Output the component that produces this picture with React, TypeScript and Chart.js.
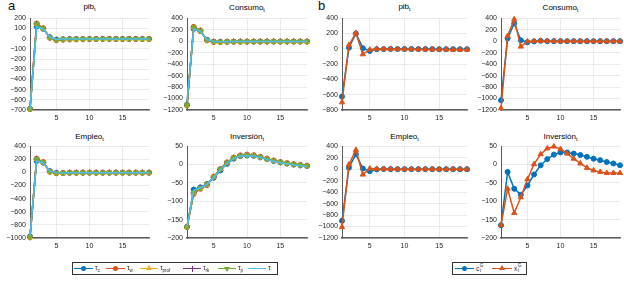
import React, { useEffect, useRef } from "react";
import { Chart, registerables } from "chart.js";
Chart.register(...registerables);

// ---------- data ----------
const periods = [1, 2, 3, 4, 5, 6, 7, 8, 9, 10, 11, 12, 13, 14, 15, 16, 17, 18, 19];
const xTicks = [5, 10, 15];

// Panel a: pib_t
const pibA_tc = [-690, 118, 96, 14, -9, -6, -5, -4, -4, -4, -3, -3, -3, -3, -3, -3, -3, -3, -3];
const pibA_tw = [-690, 148, 102, 8, -16, -10, -7, -6, -5, -5, -5, -4, -4, -4, -4, -4, -4, -4, -4];
const pibA_tprof = [-690, 146, 101, 9, -15, -9, -7, -6, -5, -5, -4, -4, -4, -4, -4, -4, -4, -4, -4];
const pibA_trk = [-690, 144, 100, 10, -14, -9, -6, -5, -5, -5, -4, -4, -4, -4, -4, -3, -3, -3, -3];
const pibA_tp = [-690, 142, 99, 10, -14, -8, -6, -5, -5, -4, -4, -4, -4, -3, -3, -3, -3, -3, -3];
const pibA_tau = [-690, 115, 94, 15, -8, -5, -4, -4, -4, -3, -3, -3, -3, -3, -3, -3, -3, -3, -3];

// Panel a: Consumo_t
const conA_tc = [-1110, 215, 175, 25, -8, -12, -10, -8, -8, -7, -7, -6, -6, -6, -6, -6, -6, -6, -6];
const conA_tw = [-1120, 250, 185, 15, -15, -14, -12, -10, -9, -8, -8, -7, -7, -7, -7, -7, -7, -7, -7];
const conA_tprof = [-1120, 246, 183, 16, -14, -13, -11, -10, -9, -8, -8, -7, -7, -7, -7, -7, -7, -7, -7];
const conA_trk = [-1120, 242, 181, 18, -13, -13, -11, -9, -8, -8, -7, -7, -7, -6, -6, -6, -6, -6, -6];
const conA_tp = [-1120, 238, 179, 18, -12, -12, -10, -9, -8, -8, -7, -7, -6, -6, -6, -6, -6, -6, -6];
const conA_tau = [-1050, 210, 172, 28, -6, -11, -9, -8, -7, -7, -6, -6, -6, -6, -6, -6, -6, -6, -6];

// Panel a: Empleo_t
const empA_tc = [-975, 175, 150, 20, -5, -8, -4, -4, -3, -3, -3, -3, -3, -3, -3, -3, -3, -3, -3];
const empA_tw = [-988, 210, 158, 10, -12, -10, -5, -5, -4, -4, -4, -4, -4, -4, -4, -4, -4, -4, -4];
const empA_tprof = [-988, 206, 157, 11, -11, -10, -5, -5, -4, -4, -4, -4, -4, -4, -4, -4, -4, -4, -4];
const empA_trk = [-988, 203, 156, 12, -10, -9, -5, -4, -4, -4, -4, -4, -4, -4, -4, -4, -4, -4, -4];
const empA_tp = [-988, 200, 155, 12, -10, -9, -5, -4, -4, -4, -4, -3, -3, -3, -3, -3, -3, -3, -3];
const empA_tau = [-960, 170, 148, 22, -4, -7, -4, -4, -3, -3, -3, -3, -3, -3, -3, -3, -3, -3, -3];

// Panel a: Inversión_t
const invA_tc = [-170, -68, -62, -53, -36, -16, 2, 16, 23, 25, 24, 20, 15, 10, 6, 3, 0, -2, -4];
const invA_tw = [-170, -80, -66, -56, -33, -12, 6, 19, 25, 27, 25, 21, 16, 11, 7, 4, 1, -1, -3];
const invA_tprof = [-170, -78, -65, -55, -33, -12, 6, 19, 25, 27, 26, 21, 16, 11, 7, 4, 1, -1, -3];
const invA_trk = [-170, -77, -64, -55, -34, -13, 5, 18, 24, 26, 25, 20, 15, 10, 6, 3, 0, -2, -4];
const invA_tp = [-170, -76, -64, -54, -34, -13, 5, 18, 24, 25, 24, 20, 15, 10, 6, 3, 0, -2, -4];
const invA_tau = [-170, -70, -63, -54, -35, -15, 3, 17, 23, 24, 23, 19, 14, 9, 5, 2, -1, -3, -5];

// Panel b
const pibB_cG = [-625, 15, 200, 8, -28, -6, -4, -3, -3, -3, -3, -3, -4, -4, -5, -5, -5, -5, -5];
const pibB_xG = [-700, 50, 205, -72, -12, 0, -2, -3, -4, -5, -6, -7, -8, -9, -10, -10, -11, -11, -11];
const conB_cG = [-1030, 50, 310, 15, -20, -5, 5, 0, 0, 0, 0, 0, 0, 0, 0, 0, 0, 0, 0];
const conB_xG = [-1170, 90, 380, -95, -5, 0, 5, 2, 0, 0, -1, -2, -2, -3, -3, -3, -3, -3, -3];
const empB_cG = [-900, 25, 260, 10, -35, -5, 2, 0, 0, 0, 0, 0, 0, 0, 0, 0, 0, 0, 0];
const empB_xG = [-1010, 80, 335, -95, 10, 5, 3, 2, 0, 0, 0, -1, -1, -1, -2, -2, -2, -2, -2];
const invB_cG = [-165, -20, -66, -82, -57, -27, -2, 15, 27, 33, 33, 30, 26, 21, 16, 12, 7, 3, -2];
const invB_xG = [-165, -66, -132, -89, -40, 1, 28, 44, 49, 42, 30, 16, 3, -9, -16, -20, -23, -23, -23];

// ---------- styles ----------
const C = {
  blue: "#0072BD",
  orange: "#D95319",
  yellow: "#EDB120",
  purple: "#7E2F8E",
  green: "#77AC30",
  cyan: "#4DBEEE",
};
const FONT = "'Liberation Sans', Arial, Helvetica, sans-serif";
const TICK_COLOR = "#262626";
const GRID = "#e4e4e4";

type Series = {
  label: string;
  color: string;
  values: number[];
  pointStyle: any;
  rotation?: number;
  radius: number;
};

const aSeries = (v: number[][]): Series[] => [
  { label: "τc", color: C.blue, values: v[0], pointStyle: "circle", radius: 2.5 },
  { label: "τw", color: C.orange, values: v[1], pointStyle: "circle", radius: 2.5 },
  { label: "τprof", color: C.yellow, values: v[2], pointStyle: "triangle", radius: 3 },
  { label: "τrk", color: C.purple, values: v[3], pointStyle: "cross", radius: 3 },
  { label: "τp", color: C.green, values: v[4], pointStyle: "triangle", rotation: 180, radius: 3 },
  { label: "τ", color: C.cyan, values: v[5], pointStyle: "circle", radius: 0 },
];
const bSeries = (c: number[], x: number[]): Series[] => [
  { label: "cG", color: C.blue, values: c, pointStyle: "circle", radius: 2.5 },
  { label: "xG", color: C.orange, values: x, pointStyle: "triangle", radius: 3 },
];

const YW = 40;
const XH = 16;
const PT = 8;
const PR = 8;

const fmt = (v: number) => (v < 0 ? "\u2212" + Math.abs(v) : String(v));

function Subplot(props: {
  L: number; T: number; R: number; B: number;
  yMin: number; yMax: number; yStep: number; series: Series[];
}) {
  const { L, T, R, B, yMin, yMax, yStep, series } = props;
  const ref = useRef<HTMLCanvasElement | null>(null);
  const w = R - L + YW + PR;
  const h = B - T + PT + XH;
  useEffect(() => {
    if (!ref.current) return;
    const chart = new Chart(ref.current, {
      type: "line",
      data: {
        datasets: series.map((s, i) => ({
          label: s.label,
          data: periods.map((t, k) => ({ x: t, y: s.values[k] })),
          borderColor: s.color,
          backgroundColor: s.color,
          borderWidth: 1.5,
          pointStyle: s.pointStyle,
          pointRotation: s.rotation || 0,
          pointRadius: s.radius,
          pointBorderWidth: 1,
          pointHoverRadius: 0,
          tension: 0,
          order: series.length - i,
          clip: false as any,
        })),
      },
      options: {
        animation: false,
        responsive: false,
        maintainAspectRatio: false,
        events: [],
        layout: { padding: { top: PT, right: PR, left: 0, bottom: 0 } },
        plugins: { legend: { display: false }, tooltip: { enabled: false }, title: { display: false } },
        scales: {
          x: {
            type: "linear",
            min: 1,
            max: 19,
            afterBuildTicks: (ax: any) => {
              ax.ticks = xTicks.map((v) => ({ value: v }));
            },
            afterFit: (s: any) => {
              s.height = XH;
            },
            grid: { color: GRID, drawTicks: false, lineWidth: 0.8 },
            border: { display: true, color: "#5a5a5a", width: 1.5 },
            ticks: {
              font: { family: FONT, size: 7 },
              color: TICK_COLOR,
              padding: 4,
              maxRotation: 0,
              autoSkip: false,
            },
          },
          y: {
            type: "linear",
            min: yMin,
            max: yMax,
            afterFit: (s: any) => {
              s.width = YW;
            },
            grid: { color: GRID, drawTicks: false, lineWidth: 0.8 },
            border: { display: true, color: "#5a5a5a", width: 1 },
            ticks: {
              stepSize: yStep,
              font: { family: FONT, size: 7 },
              color: TICK_COLOR,
              padding: 4,
              autoSkip: false,
              callback: (v: any) => fmt(Number(v)),
            },
          },
        },
      },
    });
    return () => chart.destroy();
  }, []);
  return (
    <canvas
      ref={ref}
      width={w}
      height={h}
      style={{ position: "absolute", left: L - YW, top: T - PT, width: w, height: h }}
    />
  );
}

function Title(props: { cx: number; y: number; text: string }) {
  return (
    <div
      style={{
        position: "absolute",
        left: props.cx - 50,
        top: props.y,
        width: 100,
        textAlign: "center",
        fontFamily: FONT,
        fontSize: 8,
        color: "#000",
        lineHeight: "10px",
      }}
    >
      {props.text}
      <sub style={{ fontSize: 5.5, verticalAlign: "-2px" }}>t</sub>
    </div>
  );
}

function Marker(props: { kind: string; color: string }) {
  const { kind, color } = props;
  const base: any = { position: "absolute", left: "50%", top: "50%" };
  if (kind === "circle")
    return (
      <span style={{ ...base, width: 5, height: 5, marginLeft: -2.5, marginTop: -2.5, borderRadius: "50%", background: color }} />
    );
  if (kind === "tri")
    return (
      <span
        style={{
          ...base, width: 0, height: 0, marginLeft: -3, marginTop: -3.5,
          borderLeft: "3px solid transparent", borderRight: "3px solid transparent", borderBottom: `5px solid ${color}`,
        }}
      />
    );
  if (kind === "triDown")
    return (
      <span
        style={{
          ...base, width: 0, height: 0, marginLeft: -3, marginTop: -2,
          borderLeft: "3px solid transparent", borderRight: "3px solid transparent", borderTop: `5px solid ${color}`,
        }}
      />
    );
  if (kind === "plus")
    return <span style={{ ...base, width: 1, height: 6, marginLeft: -0.5, marginTop: -3, background: color }} />;
  return null;
}

function LegendItem(props: { x: number; lineW: number; color: string; kind: string; label: React.ReactNode }) {
  return (
    <>
      <div style={{ position: "absolute", left: props.x, top: 0, width: props.lineW, height: 11 }}>
        <span style={{ position: "absolute", left: 0, right: 0, top: 4.75, height: 1.5, background: props.color }} />
        <Marker kind={props.kind} color={props.color} />
      </div>
      <div
        style={{
          position: "absolute", left: props.x + props.lineW + 2, top: 0, height: 11, lineHeight: "10px",
          fontFamily: FONT, fontSize: 6.5, color: "#1a1a1a", whiteSpace: "nowrap",
        }}
      >
        {props.label}
      </div>
    </>
  );
}

const tauLabel = (s: string) => (
  <span>
    τ<sub style={{ fontSize: 4.5, verticalAlign: "-1.5px" }}>{s}</sub>
  </span>
);
const gLabel = (s: string) => (
  <span style={{ display: "inline-flex", alignItems: "center", height: 11 }}>
    {s}
    <span style={{ display: "inline-flex", flexDirection: "column", fontSize: 4.5, lineHeight: "4.5px", marginLeft: 0.5 }}>
      <span>G</span>
      <span>t</span>
    </span>
  </span>
);

export default function App() {
  const colA1 = { L: 30, R: 149 };
  const colA2 = { L: 187, R: 307 };
  const colB1 = { L: 342, R: 467 };
  const colB2 = { L: 501, R: 620 };
  const row1 = { T: 18, B: 110 };
  const row2 = { T: 146, B: 238 };
  return (
    <div style={{ position: "fixed", left: 0, top: 0, width: 624, height: 281, background: "#fff", overflow: "hidden" }}>
      <div style={{ position: "absolute", left: 8, top: -2, fontFamily: FONT, fontSize: 13, color: "#111" }}>a</div>
      <div style={{ position: "absolute", left: 318, top: -2, fontFamily: FONT, fontSize: 13, color: "#111" }}>b</div>

      <Title cx={(colA1.L + colA1.R) / 2} y={2} text="pib" />
      <Title cx={(colA2.L + colA2.R) / 2} y={3} text="Consumo" />
      <Title cx={(colB1.L + colB1.R) / 2} y={2} text="pib" />
      <Title cx={(colB2.L + colB2.R) / 2} y={3} text="Consumo" />
      <Title cx={(colA1.L + colA1.R) / 2} y={132} text="Empleo" />
      <Title cx={(colA2.L + colA2.R) / 2} y={132} text="Inversión" />
      <Title cx={(colB1.L + colB1.R) / 2} y={132} text="Empleo" />
      <Title cx={(colB2.L + colB2.R) / 2} y={132} text="Inversión" />

      <Subplot {...colA1} {...row1} yMin={-700} yMax={200} yStep={100}
        series={aSeries([pibA_tc, pibA_tw, pibA_tprof, pibA_trk, pibA_tp, pibA_tau])} />
      <Subplot {...colA2} {...row1} yMin={-1200} yMax={400} yStep={200}
        series={aSeries([conA_tc, conA_tw, conA_tprof, conA_trk, conA_tp, conA_tau])} />
      <Subplot {...colA1} {...row2} yMin={-1000} yMax={400} yStep={200}
        series={aSeries([empA_tc, empA_tw, empA_tprof, empA_trk, empA_tp, empA_tau])} />
      <Subplot {...colA2} {...row2} yMin={-200} yMax={50} yStep={50}
        series={aSeries([invA_tc, invA_tw, invA_tprof, invA_trk, invA_tp, invA_tau])} />

      <Subplot {...colB1} {...row1} yMin={-800} yMax={400} yStep={200} series={bSeries(pibB_cG, pibB_xG)} />
      <Subplot {...colB2} {...row1} yMin={-1200} yMax={400} yStep={200} series={bSeries(conB_cG, conB_xG)} />
      <Subplot {...colB1} {...row2} yMin={-1200} yMax={400} yStep={200} series={bSeries(empB_cG, empB_xG)} />
      <Subplot {...colB2} {...row2} yMin={-200} yMax={50} yStep={50} series={bSeries(invB_cG, invB_xG)} />

      <div style={{ position: "absolute", left: 72, top: 262, width: 206, height: 13, border: "1px solid #333", boxSizing: "border-box", background: "#fff" }}>
        <LegendItem x={1} lineW={19} color={C.blue} kind="circle" label={tauLabel("c")} />
        <LegendItem x={33} lineW={19} color={C.orange} kind="circle" label={tauLabel("w")} />
        <LegendItem x={67} lineW={18} color={C.yellow} kind="tri" label={tauLabel("prof")} />
        <LegendItem x={110} lineW={18} color={C.purple} kind="plus" label={tauLabel("rk")} />
        <LegendItem x={145} lineW={18} color={C.green} kind="triDown" label={tauLabel("p")} />
        <LegendItem x={175} lineW={18} color={C.cyan} kind="none" label={tauLabel("")} />
      </div>
      <div style={{ position: "absolute", left: 452, top: 262, width: 75, height: 13, border: "1px solid #333", boxSizing: "border-box", background: "#fff" }}>
        <LegendItem x={2} lineW={19} color={C.blue} kind="circle" label={gLabel("c")} />
        <LegendItem x={39} lineW={20} color={C.orange} kind="tri" label={gLabel("x")} />
      </div>
    </div>
  );
}
